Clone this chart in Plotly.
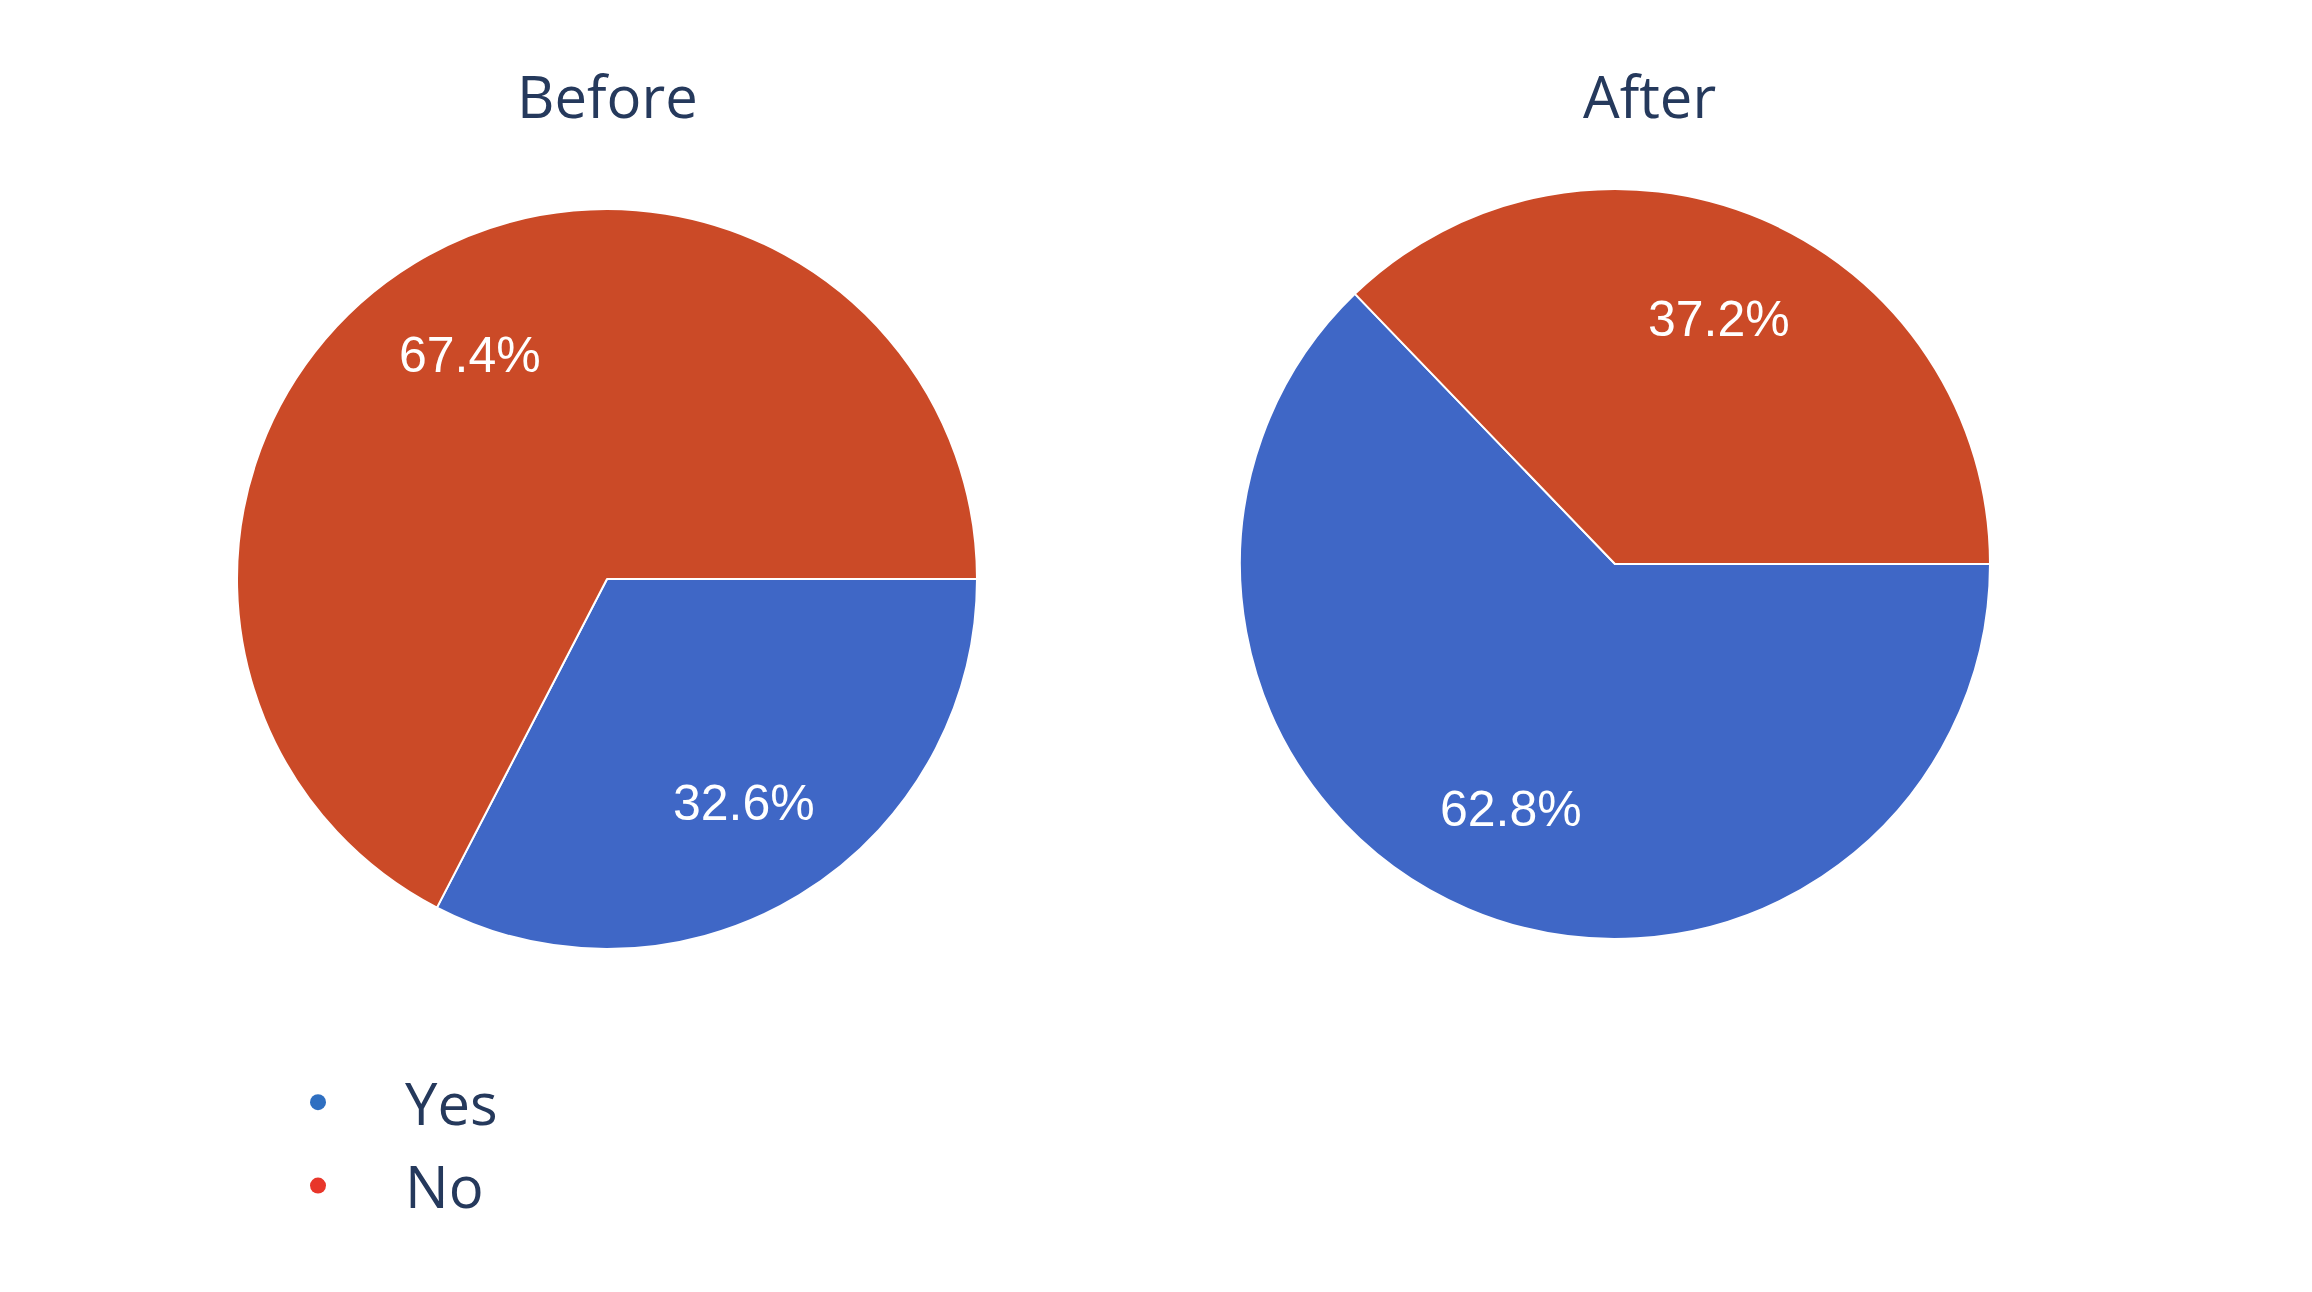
import math
import plotly.graph_objects as go

categories = ["Yes", "No"]
before_values = [32.6, 67.4]
after_values = [62.8, 37.2]
chart_titles = ["Before", "After"]

slice_colors = ["#3F67C6", "#CB4A27"]
legend_colors = ["#2F6FC1", "#E8362A"]
text_color = "#25395C"

W, H = 2312, 1292
OFF = 8  # page body margin in px


def px_x(px):
    return (px - OFF) / W


def px_y(py):
    return 1 - (py - OFF) / H


# pie geometry (pixel centre and radius)
pies = [
    dict(values=before_values, title=chart_titles[0], cx=607, cy=579, r=370, tx=607),
    dict(values=after_values, title=chart_titles[1], cx=1615, cy=564, r=375, tx=1650),
]

fig = go.Figure()
annotations = []

for p in pies:
    fig.add_trace(go.Pie(
        labels=categories, values=p["values"], name=p["title"],
        sort=False, direction="clockwise", rotation=90,
        textinfo="none", textposition="none",
        marker=dict(colors=slice_colors, line=dict(color="white", width=2)),
        showlegend=False, hoverinfo="label+percent",
        domain=dict(x=[px_x(p["cx"] - p["r"]), px_x(p["cx"] + p["r"])],
                    y=[px_y(p["cy"] + p["r"]), px_y(p["cy"] - p["r"])]),
    ))
    # slice labels placed along each slice bisector
    total = sum(p["values"])
    start = 0.0
    for v in p["values"]:
        frac = v / total
        mid = (start + frac / 2) * 2 * math.pi  # clockwise from 3 o'clock
        lx = p["cx"] + 0.71 * p["r"] * math.cos(mid)
        ly = p["cy"] + 0.71 * p["r"] * math.sin(mid)
        annotations.append(dict(
            text=f"{100 * frac:.1f}%", x=px_x(lx), y=px_y(ly),
            xref="paper", yref="paper", xanchor="center", yanchor="middle",
            showarrow=False,
            font=dict(family="Liberation Sans, Arial", size=50, color="white"),
        ))
        start += frac
    annotations.append(dict(
        text=p["title"], x=px_x(p["tx"]), y=px_y(95), xref="paper", yref="paper",
        xanchor="center", yanchor="middle", showarrow=False,
        font=dict(family="Open Sans", size=58, color=text_color),
    ))

# legend entries (round dots)
for cat, col in zip(categories, legend_colors):
    fig.add_trace(go.Scatter(x=[None], y=[None], mode="markers", name=cat,
                             legendgroup=cat,
                             marker=dict(color=col, size=16, symbol="circle"),
                             showlegend=True, hoverinfo="skip"))

fig.update_layout(
    width=W, height=H,
    margin=dict(l=0, r=0, t=0, b=0),
    paper_bgcolor="white", plot_bgcolor="white",
    xaxis=dict(visible=False), yaxis=dict(visible=False),
    annotations=annotations,
    showlegend=True,
    legend=dict(x=223 / W, y=1 - 1050 / H, xanchor="left", yanchor="top",
                font=dict(family="Open Sans", size=58, color=text_color),
                itemwidth=164, itemsizing="trace", tracegroupgap=5,
                bgcolor="rgba(0,0,0,0)", borderwidth=0),
)

fig.write_html("out.html")
